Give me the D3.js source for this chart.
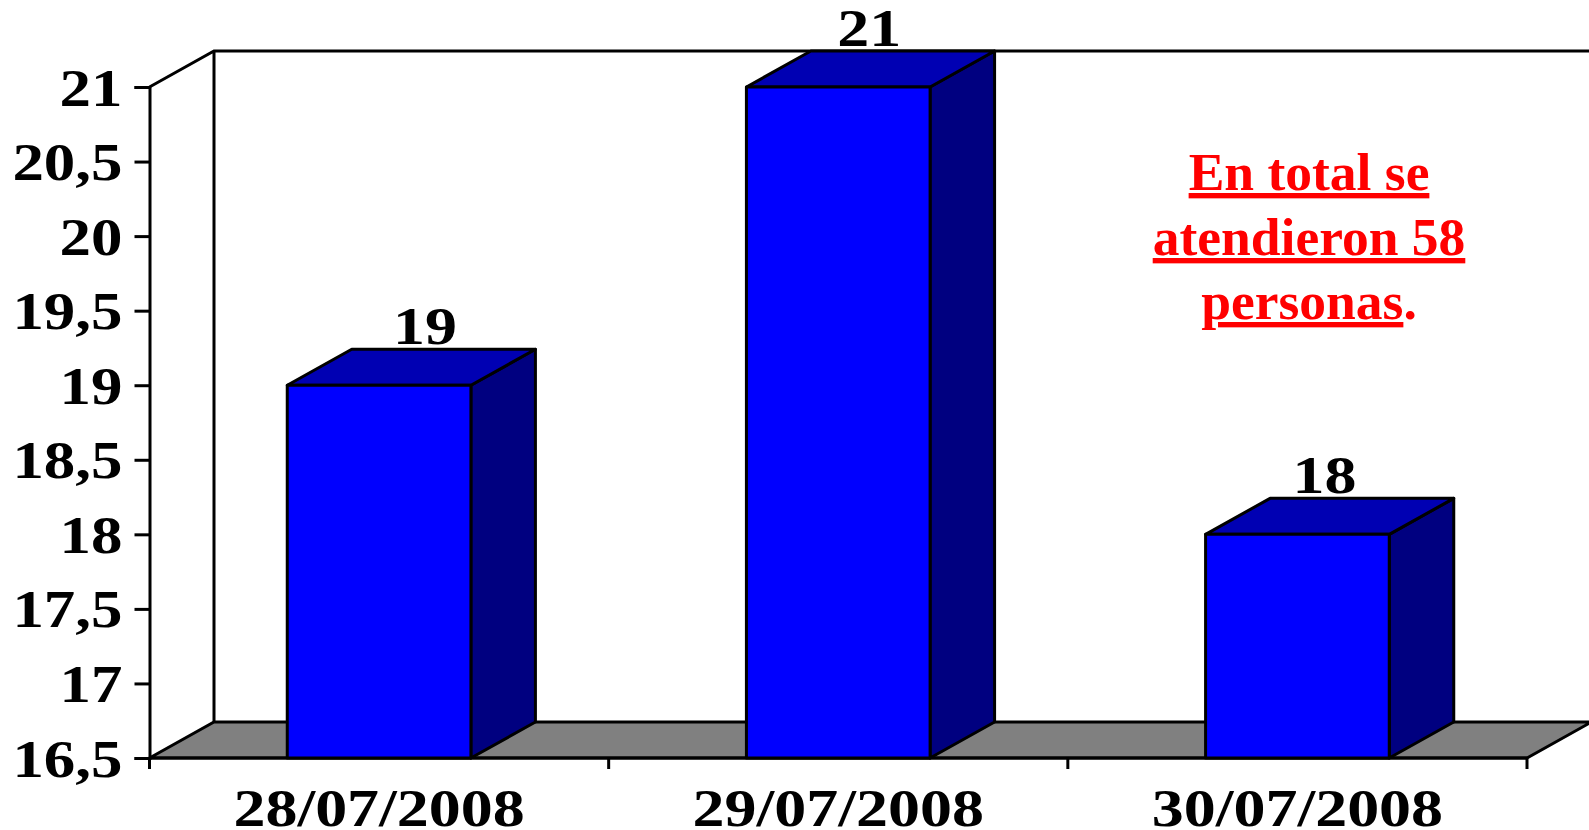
<!DOCTYPE html>
<head>
    <meta charset="utf-8">
    <script src="https://d3js.org/d3.v7.min.js"></script>
    <style>
      html, body { margin: 0; padding: 0; background: #fff; overflow: hidden; }
      svg { display: block; }
      text { font-family: "Liberation Serif", serif; font-weight: bold; fill: #000; }
      .axisline { stroke: #000; stroke-width: 3; fill: none; }
      .note { fill: #f00; font-size: 53.5px; text-anchor: middle; }
    </style>
<body>
    <script>
        var dates = ["28/07/2008", "29/07/2008", "30/07/2008"]
        var people = [19, 21, 18]
        var yTicks = [16.5, 17, 17.5, 18, 18.5, 19, 19.5, 20, 20.5, 21]
        var noteLines = ["En total se", "atendieron 58", "personas"]

        var w = 1589, h = 830
        var left = 149.5, right = 1527, top3d = 87, bottom = 758
        var depthX = 64.5, depthY = 36
        var stretch = 1.23, fontSize = 52

        var svg = d3.select("body").append("svg")
          .attr("width", w)
          .attr("height", h)

        var x = d3.scaleBand().domain(dates).range([left, right]).paddingInner(0.6).paddingOuter(0.3)
        var y = d3.scaleLinear().domain([16.5, 21]).range([bottom, top3d])

        // walls and floor
        svg.append("polygon")
          .attr("points", [[left, bottom], [left + depthX, bottom - depthY], [right + depthX, bottom - depthY], [right, bottom]].join(" "))
          .attr("fill", "#808080")
          .attr("stroke", "#000")
          .attr("stroke-width", 3)
        svg.append("path")
          .attr("class", "axisline")
          .attr("d", "M" + left + "," + top3d + "L" + (left + depthX) + "," + (top3d - depthY) + "H" + w
            + "M" + (left + depthX) + "," + (top3d - depthY) + "V" + (bottom - depthY))

        // axes
        var yAxis = d3.axisLeft(y).tickValues(yTicks).tickSize(15).tickPadding(8)
          .tickFormat(function(d){ return String(d).replace(".", ",") })
        var gy = svg.append("g").attr("transform", "translate(" + left + ",0)").call(yAxis)
        gy.select(".domain").attr("stroke-width", 3)
        gy.selectAll(".tick line").attr("stroke", "#000").attr("stroke-width", 3)
        gy.selectAll(".tick text")
          .attr("font-size", fontSize)
          .attr("font-family", null)
          .attr("x", null)
          .attr("dy", 18)
          .attr("transform", "translate(-27,0) scale(" + (stretch - 0.02) + ",1)")

        var gx = svg.append("g").attr("transform", "translate(0," + bottom + ")")
        gx.append("line").attr("class", "axisline").attr("x1", left).attr("x2", right)
        gx.selectAll(".xtick")
          .data(d3.range(dates.length + 1))
          .enter().append("line")
          .attr("class", "axisline")
          .attr("x1", function(i){ return left + i * x.step() })
          .attr("x2", function(i){ return left + i * x.step() })
          .attr("y2", 11)
        gx.selectAll(".xlabel")
          .data(dates)
          .enter().append("text")
          .attr("font-size", fontSize)
          .attr("text-anchor", "middle")
          .attr("transform", function(d){
            return "translate(" + (x(d) + x.bandwidth() / 2) + ",68) scale(" + stretch + ",1)"
          })
          .text(function(d){ return d })

        // bars
        var bars = svg.selectAll(".bar")
          .data(dates.map(function(d, i){ return {date: d, value: people[i]} }))
          .enter().append("g")
          .attr("class", "bar")
          .attr("stroke", "#000")
          .attr("stroke-width", 3)
          .attr("stroke-linejoin", "round")

        bars.append("polygon")
          .attr("fill", "#000080")
          .attr("points", function(d){
            var x1 = x(d.date) + x.bandwidth(), yt = y(d.value)
            return [[x1, yt], [x1 + depthX, yt - depthY], [x1 + depthX, bottom - depthY], [x1, bottom]].join(" ")
          })
        bars.append("polygon")
          .attr("fill", "#0000b3")
          .attr("points", function(d){
            var x0 = x(d.date), x1 = x0 + x.bandwidth(), yt = y(d.value)
            return [[x0, yt], [x0 + depthX, yt - depthY], [x1 + depthX, yt - depthY], [x1, yt]].join(" ")
          })
        bars.append("rect")
          .attr("fill", "#0000ff")
          .attr("x", function(d){ return x(d.date) })
          .attr("y", function(d){ return y(d.value) })
          .attr("width", x.bandwidth())
          .attr("height", function(d){ return bottom - y(d.value) })

        // the value labels do not sit at the same offset from their bars
        var valShift = [46, 31, 27]
        svg.selectAll(".val")
          .data(dates.map(function(d, i){ return {date: d, value: people[i]} }))
          .enter().append("text")
          .attr("class", "val")
          .attr("font-size", fontSize)
          .attr("text-anchor", "middle")
          .attr("transform", function(d, i){
            return "translate(" + (x(d.date) + x.bandwidth() / 2 + valShift[i]) + "," + (y(d.value) - depthY - 5) + ") scale(" + stretch + ",1)"
          })
          .text(function(d){ return d.value })

        // note
        var noteX = 1309, noteY = [190, 255, 319]
        noteLines.forEach(function(t, i){
          var line = svg.append("text").attr("class", "note").attr("x", noteX).attr("y", noteY[i])
          line.append("tspan")
            .style("text-decoration", "underline")
            .style("text-decoration-thickness", "5px")
            .text(t)
          if (i == 2) line.append("tspan").text(".")
        })
    </script>
</body>
